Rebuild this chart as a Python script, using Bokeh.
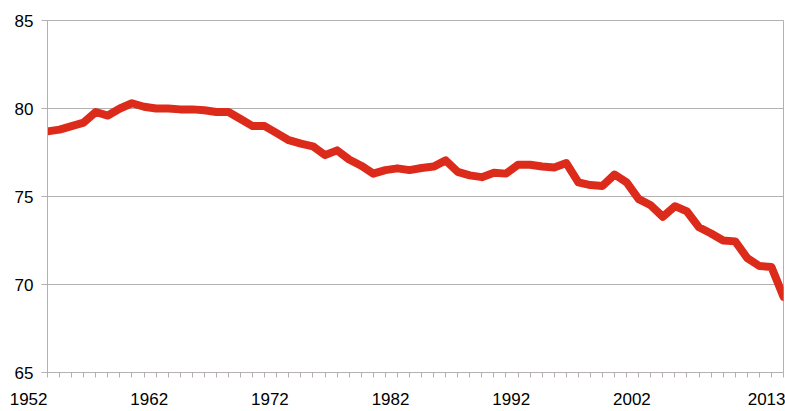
from bokeh.plotting import figure
from bokeh.models import Range1d, FixedTicker, ColumnDataSource
from bokeh.embed import file_html
from bokeh.resources import INLINE

years = list(range(1952, 2014))
values = [
    78.7, 78.8, 79.0, 79.2, 79.8, 79.6, 80.0, 80.3, 80.1, 80.0,
    80.0, 79.95, 79.95, 79.9, 79.8, 79.8, 79.4, 79.0, 79.0, 78.6,
    78.2, 78.0, 77.85, 77.35, 77.62, 77.1, 76.75, 76.3, 76.5, 76.6,
    76.5, 76.62, 76.7, 77.05, 76.4, 76.2, 76.1, 76.35, 76.3, 76.8,
    76.8, 76.7, 76.65, 76.9, 75.8, 75.65, 75.6, 76.25, 75.8, 74.85,
    74.5, 73.85, 74.45, 74.15, 73.25, 72.9, 72.5, 72.45, 71.5, 71.05,
    71.0, 69.3,
]
x_label_years = [1952, 1962, 1972, 1982, 1992, 2002, 2013]
y_ticks = [65, 70, 75, 80, 85]
y_min, y_max = 65, 85

FONT = "Liberation Sans"
GRAY = "#b4b0b0"

p = figure(width=785, height=411, title=None,
           x_range=Range1d(years[0], years[-1]), y_range=Range1d(y_min, y_max),
           output_backend="svg", toolbar_location=None,
           min_border_left=47, min_border_right=2, min_border_top=20,
           min_border_bottom=38)
p.background_fill_color = "white"
p.border_fill_color = "white"
p.outline_line_color = GRAY
p.outline_line_width = 1

src = ColumnDataSource(dict(x=years, y=values))
p.line("x", "y", source=src, line_color="#dc2a1b", line_width=8,
       line_join="round", line_cap="round")

# x axis: yearly minor ticks; labels sit to the left of their tick
# (trailing no-break spaces push each centred label's digits left of the tick;
#  the last label is kept inside the canvas edge by Bokeh itself)
pad = "\u00a0" * 8
overrides = {yr: str(yr) + pad for yr in x_label_years}
overrides[x_label_years[-1]] = str(x_label_years[-1])
xa = p.xaxis[0]
xa.ticker = FixedTicker(ticks=x_label_years, minor_ticks=years)
xa.major_label_overrides = overrides
xa.axis_line_color = GRAY
xa.minor_tick_line_color = GRAY
xa.major_tick_line_color = GRAY
xa.minor_tick_out = 5
xa.minor_tick_in = 0
xa.major_tick_out = 0
xa.major_tick_in = 0
xa.major_label_standoff = 12
xa.major_label_text_font = FONT
xa.major_label_text_font_size = "17px"
xa.major_label_text_color = "black"
p.xgrid.visible = False

ya = p.yaxis[0]
ya.ticker = FixedTicker(ticks=y_ticks)
ya.axis_line_color = GRAY
ya.major_tick_line_color = GRAY
ya.major_tick_out = 6
ya.major_tick_in = 0
ya.minor_tick_line_color = None
ya.major_label_standoff = 8
ya.major_label_text_font = FONT
ya.major_label_text_font_size = "17px"
ya.major_label_text_color = "black"
p.ygrid.grid_line_color = GRAY
p.ygrid.grid_line_width = 1
p.ygrid.ticker = FixedTicker(ticks=y_ticks)

open("out.html", "w").write(file_html(p, INLINE))
